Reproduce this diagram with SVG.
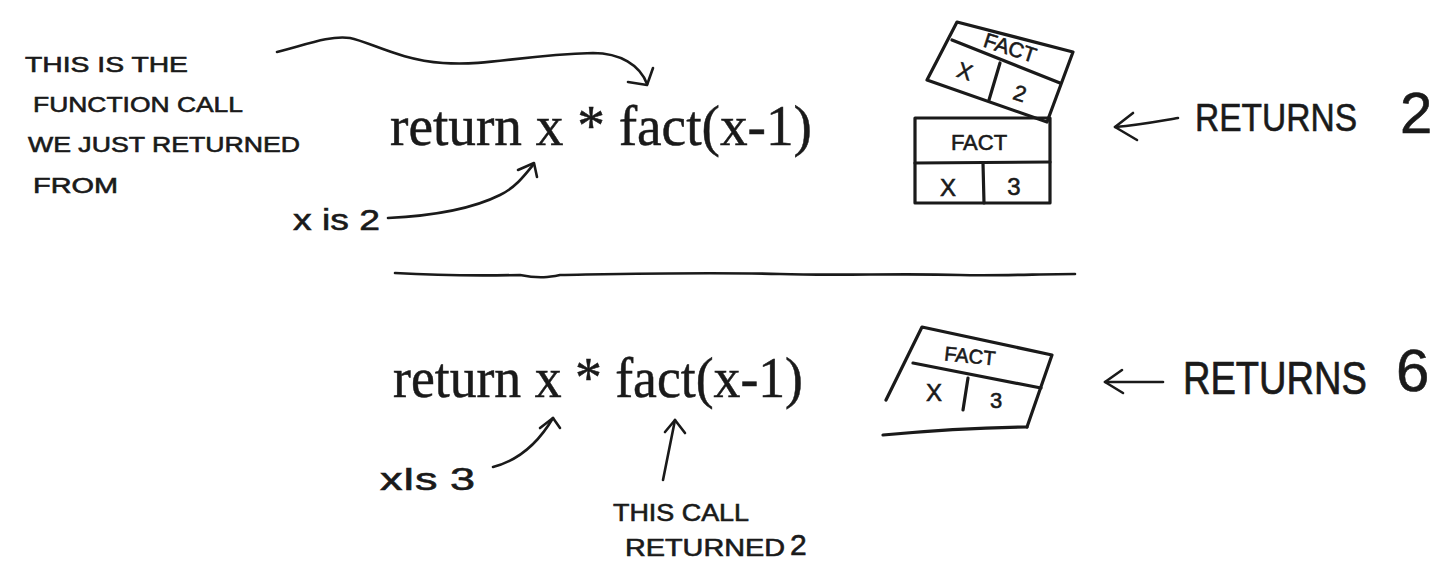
<svg xmlns="http://www.w3.org/2000/svg" width="1454" height="565" viewBox="0 0 1454 565">
<defs>
<style>
.bg{fill:#ffffff}
.lbl{font-family:"Liberation Sans","DejaVu Sans",sans-serif;fill:#1a1a1a;stroke:#1a1a1a;stroke-width:0.6;font-weight:normal}
.code{font-family:"Liberation Serif","DejaVu Serif",serif;fill:#1a1a1a;stroke:#1a1a1a;stroke-width:0.5}
.ln{fill:none;stroke:#1a1a1a;stroke-width:2.6;stroke-linecap:round;stroke-linejoin:round}
.box{fill:none;stroke:#1a1a1a;stroke-width:3.2;stroke-linecap:round;stroke-linejoin:round}
</style>
</defs>
<rect class="bg" x="0" y="0" width="1454" height="565"/>

<g id="note-top-left">
<text class="lbl" x="25" y="72" font-size="22" textLength="163" lengthAdjust="spacingAndGlyphs">THIS IS THE</text>
<text class="lbl" x="33" y="112" font-size="22" textLength="210" lengthAdjust="spacingAndGlyphs">FUNCTION CALL</text>
<text class="lbl" x="28" y="152" font-size="22" textLength="272" lengthAdjust="spacingAndGlyphs">WE JUST RETURNED</text>
<text class="lbl" x="33" y="193" font-size="22" textLength="85" lengthAdjust="spacingAndGlyphs">FROM</text>
</g>

<g id="code-top">
<text class="code" x="390" y="145" font-size="56" textLength="422" lengthAdjust="spacingAndGlyphs">return x * fact(x-1)</text>
</g>

<g id="label-x-is-2">
<text class="lbl" x="293" y="230" font-size="30" textLength="87" lengthAdjust="spacingAndGlyphs">x is 2</text>
</g>

<g id="stack-top">
<polygon class="box" points="957,22 1073,52 1047,122 927,80"/>
<line class="box" x1="952" y1="40" x2="1060" y2="83"/>
<line class="box" x1="1000" y1="63" x2="989" y2="100"/>
<text class="lbl" x="1010" y="55" font-size="21" text-anchor="middle" transform="rotate(18 1010 48)">FACT</text>
<text class="lbl" x="965" y="79" font-size="22" text-anchor="middle" transform="rotate(18 965 71)">X</text>
<text class="lbl" x="1020" y="101" font-size="22" text-anchor="middle" transform="rotate(18 1020 93)">2</text>
<rect class="box" x="915" y="118" width="135" height="85"/>
<line class="box" x1="915" y1="163" x2="1050" y2="162"/>
<line class="box" x1="983" y1="163" x2="984" y2="203"/>
<text class="lbl" x="979" y="150" font-size="22" text-anchor="middle">FACT</text>
<text class="lbl" x="948" y="196" font-size="24" text-anchor="middle">X</text>
<text class="lbl" x="1014" y="195" font-size="24" text-anchor="middle">3</text>
</g>

<g id="returns-2">
<text class="lbl" x="1195" y="131" font-size="38" textLength="162" lengthAdjust="spacingAndGlyphs">RETURNS</text>
<text class="lbl" x="1400" y="133" font-size="58">2</text>
</g>

<g id="code-bottom">
<text class="code" x="393" y="397" font-size="56" textLength="410" lengthAdjust="spacingAndGlyphs">return x * fact(x-1)</text>
</g>

<g id="label-x-is-3">
<text class="lbl" x="380" y="490" font-size="31" textLength="95" lengthAdjust="spacingAndGlyphs">xIs 3</text>
</g>

<g id="label-this-call">
<text class="lbl" x="613" y="521" font-size="24" textLength="136" lengthAdjust="spacingAndGlyphs">THIS CALL</text>
<text class="lbl" x="625" y="556" font-size="24" textLength="160" lengthAdjust="spacingAndGlyphs">RETURNED</text>
<text class="lbl" x="790" y="555" font-size="30">2</text>
</g>

<g id="stack-bottom">
<path class="box" d="M886,400 L922,327 L1052,355 L1027,427"/>
<line class="box" x1="913" y1="363" x2="1041" y2="388"/>
<line class="box" x1="968" y1="378" x2="963" y2="410"/>
<path class="box" d="M883,435 Q960,428 1027,427"/>
<text class="lbl" x="970" y="363" font-size="20" text-anchor="middle" transform="rotate(6 970 355)">FACT</text>
<text class="lbl" x="934" y="401" font-size="24" text-anchor="middle">X</text>
<text class="lbl" x="996" y="408" font-size="22" text-anchor="middle">3</text>
</g>

<g id="returns-6">
<text class="lbl" x="1183" y="328" font-size="38" textLength="184" lengthAdjust="spacingAndGlyphs" transform="scale(1,1.2)">RETURNS</text>
<text class="lbl" x="1396" y="391" font-size="60">6</text>
</g>

<g id="connectors">
<path class="ln" d="M277,52 C305,45 330,35 350,38 C370,42 400,60 443,63 C490,66 520,55 593,53 C620,53 640,65 647,84"/>
<path class="ln" d="M628,82 L647,85 L653,68"/>
<path class="ln" d="M388,218 C430,216 470,210 500,195 C515,188 525,175 533,165"/>
<path class="ln" d="M518,170 L534,163 L537,177"/>
<path class="ln" d="M395,273 C430,275 470,276 520,275 C540,279 550,277 560,275 C620,274 700,272 780,274 C840,276 900,273 960,275 C1000,276 1040,274 1075,274"/>
<path class="ln" d="M1178,118 C1160,121 1140,125 1115,127"/>
<path class="ln" d="M1133,113 L1115,127 L1137,140"/>
<path class="ln" d="M1163,382 L1105,382"/>
<path class="ln" d="M1122,370 L1105,382 L1123,393"/>
<path class="ln" d="M493,467 C520,460 540,440 553,418"/>
<path class="ln" d="M540,428 L553,418 L560,428"/>
<path class="ln" d="M663,480 L675,420"/>
<path class="ln" d="M665,432 L675,420 L685,433"/>
</g>
</svg>
